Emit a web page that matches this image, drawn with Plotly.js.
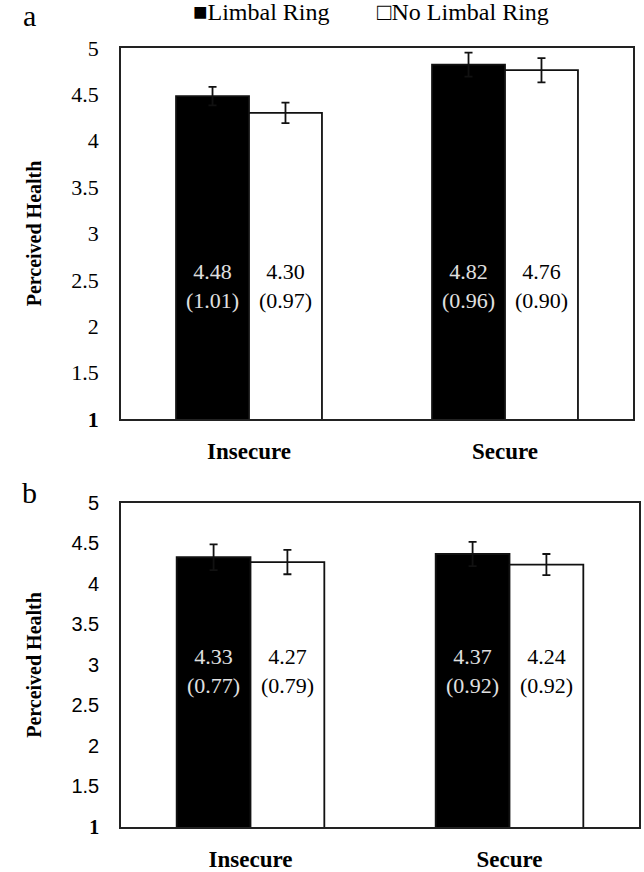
<!DOCTYPE html>
<html>
<head>
<meta charset="utf-8">
<script src="https://cdn.plot.ly/plotly-3.0.1.min.js"></script>
<style>html,body{margin:0;padding:0;background:#fff;} #chart{width:644px;height:872px;}</style>
</head>
<body>
<div id="chart"></div>
<script>
// ---- data ----
const categories = ['Insecure', 'Secure'];
const seriesNames = ['Limbal Ring', 'No Limbal Ring'];
const yTickVals = [1, 1.5, 2, 2.5, 3, 3.5, 4, 4.5, 5];
const yTickLabels = ['1', '1.5', '2', '2.5', '3', '3.5', '4', '4.5', '5'];

// panel a
const aLimbalMean = [4.48, 4.82];
const aNoLimbalMean = [4.30, 4.76];
const aLimbalErr = [0.10, 0.13];
const aNoLimbalErr = [0.11, 0.13];
const aLimbalSD = ['1.01', '0.96'];
const aNoLimbalSD = ['0.97', '0.90'];

// panel b
const bLimbalMean = [4.33, 4.37];
const bNoLimbalMean = [4.27, 4.24];
const bLimbalErr = [0.16, 0.15];
const bNoLimbalErr = [0.15, 0.13];
const bLimbalSD = ['0.77', '0.92'];
const bNoLimbalSD = ['0.79', '0.92'];

// ---- styling ----
const SERIF = 'Liberation Serif';
const SANS = 'Liberation Sans';
const BARGAP = 0.43;
const halfOffset = (1 - BARGAP) / 4;

function barTrace(y, err, isBlack, xa, ya, name) {
  return {
    type: 'bar', x: categories, y: y, name: name, xaxis: xa, yaxis: ya,
    showlegend: false,
    marker: {color: isBlack ? '#000' : '#fff', line: {color: '#111', width: 1.8}},
    error_y: {type: 'data', array: err, visible: true, color: '#111', thickness: 1.8, width: 4},
    hoverinfo: 'skip'
  };
}

const data = [
  barTrace(aLimbalMean, aLimbalErr, true, 'x', 'y', seriesNames[0]),
  barTrace(aNoLimbalMean, aNoLimbalErr, false, 'x', 'y', seriesNames[1]),
  barTrace(bLimbalMean, bLimbalErr, true, 'x2', 'y2', seriesNames[0]),
  barTrace(bNoLimbalMean, bNoLimbalErr, false, 'x2', 'y2', seriesNames[1])
];

function valueLabels(means, sds, isBlack, xref, yref, yPos) {
  return means.map((m, i) => ({
    xref: xref, yref: yref,
    x: i + (isBlack ? -halfOffset : halfOffset), y: yPos,
    text: m.toFixed(2) + '<br>(' + sds[i] + ')',
    showarrow: false,
    font: {family: SERIF, size: 22, color: isBlack ? '#e0e0e0' : '#000'},
    align: 'center'
  }));
}

const annotations = [].concat(
  valueLabels(aLimbalMean, aLimbalSD, true, 'x', 'y', 2.43),
  valueLabels(aNoLimbalMean, aNoLimbalSD, false, 'x', 'y', 2.43),
  valueLabels(bLimbalMean, bLimbalSD, true, 'x2', 'y2', 2.93),
  valueLabels(bNoLimbalMean, bNoLimbalSD, false, 'x2', 'y2', 2.93),
  [
    {xref: 'paper', yref: 'paper', x: -0.176, y: 1.004, xanchor: 'center', yanchor: 'top',
     text: 'a', showarrow: false, font: {family: SERIF, size: 30, color: '#000'}},
    {xref: 'paper', yref: 'paper', x: -0.176, y: 0.456, xanchor: 'center', yanchor: 'top',
     text: 'b', showarrow: false, font: {family: SERIF, size: 30, color: '#000'}},
    {xref: 'paper', yref: 'paper', x: 0.135, y: 1.003, xanchor: 'left', yanchor: 'top',
     text: '■' + seriesNames[0], showarrow: false, font: {family: SERIF, size: 24, color: '#000'}},
    {xref: 'paper', yref: 'paper', x: 0.49, y: 1.003, xanchor: 'left', yanchor: 'top',
     text: '□' + seriesNames[1], showarrow: false, font: {family: SERIF, size: 24, color: '#000'}}
  ]
);

function yAxis(domain, tickFont, anchor) {
  return {
    domain: domain, anchor: anchor, range: [1, 5],
    tickvals: yTickVals,
    ticktext: yTickLabels.map(t => t === '1' ? '<b><span style="font-family:Liberation Serif">1</span></b>' : t),
    tickfont: tickFont, ticks: '', ticklabelstandoff: 16,
    showgrid: false, zeroline: false,
    showline: true, mirror: true, linecolor: '#222', linewidth: 1.8,
    title: {text: '<b>Perceived Health</b>', font: {family: SERIF, size: 20, color: '#000'}, standoff: 24},
    fixedrange: true
  };
}
function xAxis(domain, anchor) {
  return {
    domain: domain, anchor: anchor, type: 'category',
    tickfont: {family: SERIF, size: 23, color: '#000'},
    tickprefix: '<b>', ticksuffix: '</b>',
    ticks: '', ticklabelstandoff: 11, showgrid: false, zeroline: false,
    showline: true, mirror: true, linecolor: '#222', linewidth: 1.8,
    fixedrange: true
  };
}

const layout = {
  width: 644, height: 872,
  margin: {l: 121, r: 5, t: 0, b: 0},
  paper_bgcolor: '#fff', plot_bgcolor: '#fff',
  barmode: 'group', bargap: BARGAP, bargroupgap: 0,
  showlegend: false,
  xaxis: xAxis([0, 512 / 518], 'y'),
  yaxis: yAxis([0.5195, 0.945], {family: SERIF, size: 22, color: '#000'}, 'x'),
  xaxis2: xAxis([0, 1], 'y2'),
  yaxis2: yAxis([0.0516, 0.4232], {family: SANS, size: 20, color: '#000'}, 'x2'),
  annotations: annotations
};

Plotly.newPlot('chart', data, layout, {displayModeBar: false, staticPlot: true});
</script>
</body>
</html>
